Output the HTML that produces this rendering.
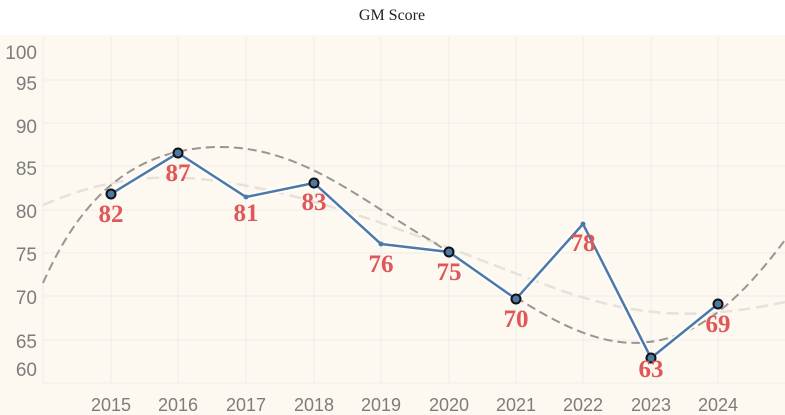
<!DOCTYPE html><html><head><style>body{margin:0;background:#fff}</style></head><body>
<svg width="785" height="415" xmlns="http://www.w3.org/2000/svg" style="display:block">
<rect x="0" y="0" width="785" height="415" fill="#fff"/>
<rect x="0" y="35" width="785" height="380" fill="#fdf8f0"/>
<text x="392" y="20" text-anchor="middle" font-family="Liberation Serif, serif" font-size="16" fill="#222">GM Score</text>
<g stroke="#efece8" stroke-width="1">
<line x1="43" y1="37" x2="43" y2="383"/>
<line x1="111" y1="37" x2="111" y2="383"/><line x1="178" y1="37" x2="178" y2="383"/><line x1="246" y1="37" x2="246" y2="383"/><line x1="314" y1="37" x2="314" y2="383"/><line x1="381" y1="37" x2="381" y2="383"/><line x1="449" y1="37" x2="449" y2="383"/><line x1="516" y1="37" x2="516" y2="383"/><line x1="583" y1="37" x2="583" y2="383"/><line x1="651" y1="37" x2="651" y2="383"/><line x1="718" y1="37" x2="718" y2="383"/>
<line x1="43" y1="80" x2="785" y2="80"/><line x1="43" y1="123" x2="785" y2="123"/><line x1="43" y1="166" x2="785" y2="166"/><line x1="43" y1="210" x2="785" y2="210"/><line x1="43" y1="253" x2="785" y2="253"/><line x1="43" y1="296" x2="785" y2="296"/><line x1="43" y1="340" x2="785" y2="340"/><line x1="43" y1="383" x2="785" y2="383"/>
</g>
<g font-family="Liberation Sans, sans-serif" font-size="19" fill="#7d7d7d" text-anchor="end">
<text x="37" y="59">100</text><text x="37" y="90">95</text><text x="37" y="133">90</text><text x="37" y="175">85</text><text x="37" y="218">80</text><text x="37" y="261">75</text><text x="37" y="304">70</text><text x="37" y="348">65</text><text x="37" y="376">60</text>
</g>
<g font-family="Liberation Sans, sans-serif" font-size="18" fill="#7d7d7d" text-anchor="middle">
<text x="111" y="411">2015</text><text x="178" y="411">2016</text><text x="246" y="411">2017</text><text x="314" y="411">2018</text><text x="381" y="411">2019</text><text x="449" y="411">2020</text><text x="516" y="411">2021</text><text x="583" y="411">2022</text><text x="651" y="411">2023</text><text x="718" y="411">2024</text>
</g>
<path d="M43,205 C90,185 140,172 210,180 C330,195 450,250 560,290 C640,318 700,320 785,302" fill="none" stroke="#e6e1da" stroke-width="2.5" stroke-dasharray="12,6"/>
<path d="M43,283 C80,200 130,150 215,147 C300,145 360,200 430,240 C500,285 560,335 620,342 C690,350 740,300 785,240" fill="none" stroke="#999590" stroke-width="2" stroke-dasharray="9,5"/>
<polyline points="111,194 178,153 246,197 314,183 381,244 449,252 516,299 583,224 651,358 718,304" fill="none" stroke="#fff" stroke-width="6"/>
<polyline points="111,194 178,153 246,197 314,183 381,244 449,252 516,299 583,224 651,358 718,304" fill="none" stroke="#4e79a7" stroke-width="2.5"/>
<g fill="#4e79a7" stroke="#111" stroke-width="2">
<circle cx="111" cy="194" r="4.5"/><circle cx="178" cy="153" r="4.5"/><circle cx="314" cy="183" r="4.5"/><circle cx="449" cy="252" r="4.5"/><circle cx="516" cy="299" r="4.5"/><circle cx="651" cy="358" r="4.5"/><circle cx="718" cy="304" r="4.5"/>
</g>
<g fill="#4e79a7"><circle cx="246" cy="197" r="2.5"/><circle cx="381" cy="244" r="2.5"/><circle cx="583" cy="224" r="2.5"/></g>
<g font-family="Liberation Serif, serif" font-weight="bold" font-size="25" fill="#e05759" text-anchor="middle">
<text x="111" y="222">82</text><text x="178" y="181">87</text><text x="246" y="221">81</text><text x="314" y="210">83</text><text x="381" y="272">76</text><text x="449" y="280">75</text><text x="516" y="327">70</text><text x="583" y="251">78</text><text x="651" y="377">63</text><text x="718" y="332">69</text>
</g>
</svg>
</body></html>
